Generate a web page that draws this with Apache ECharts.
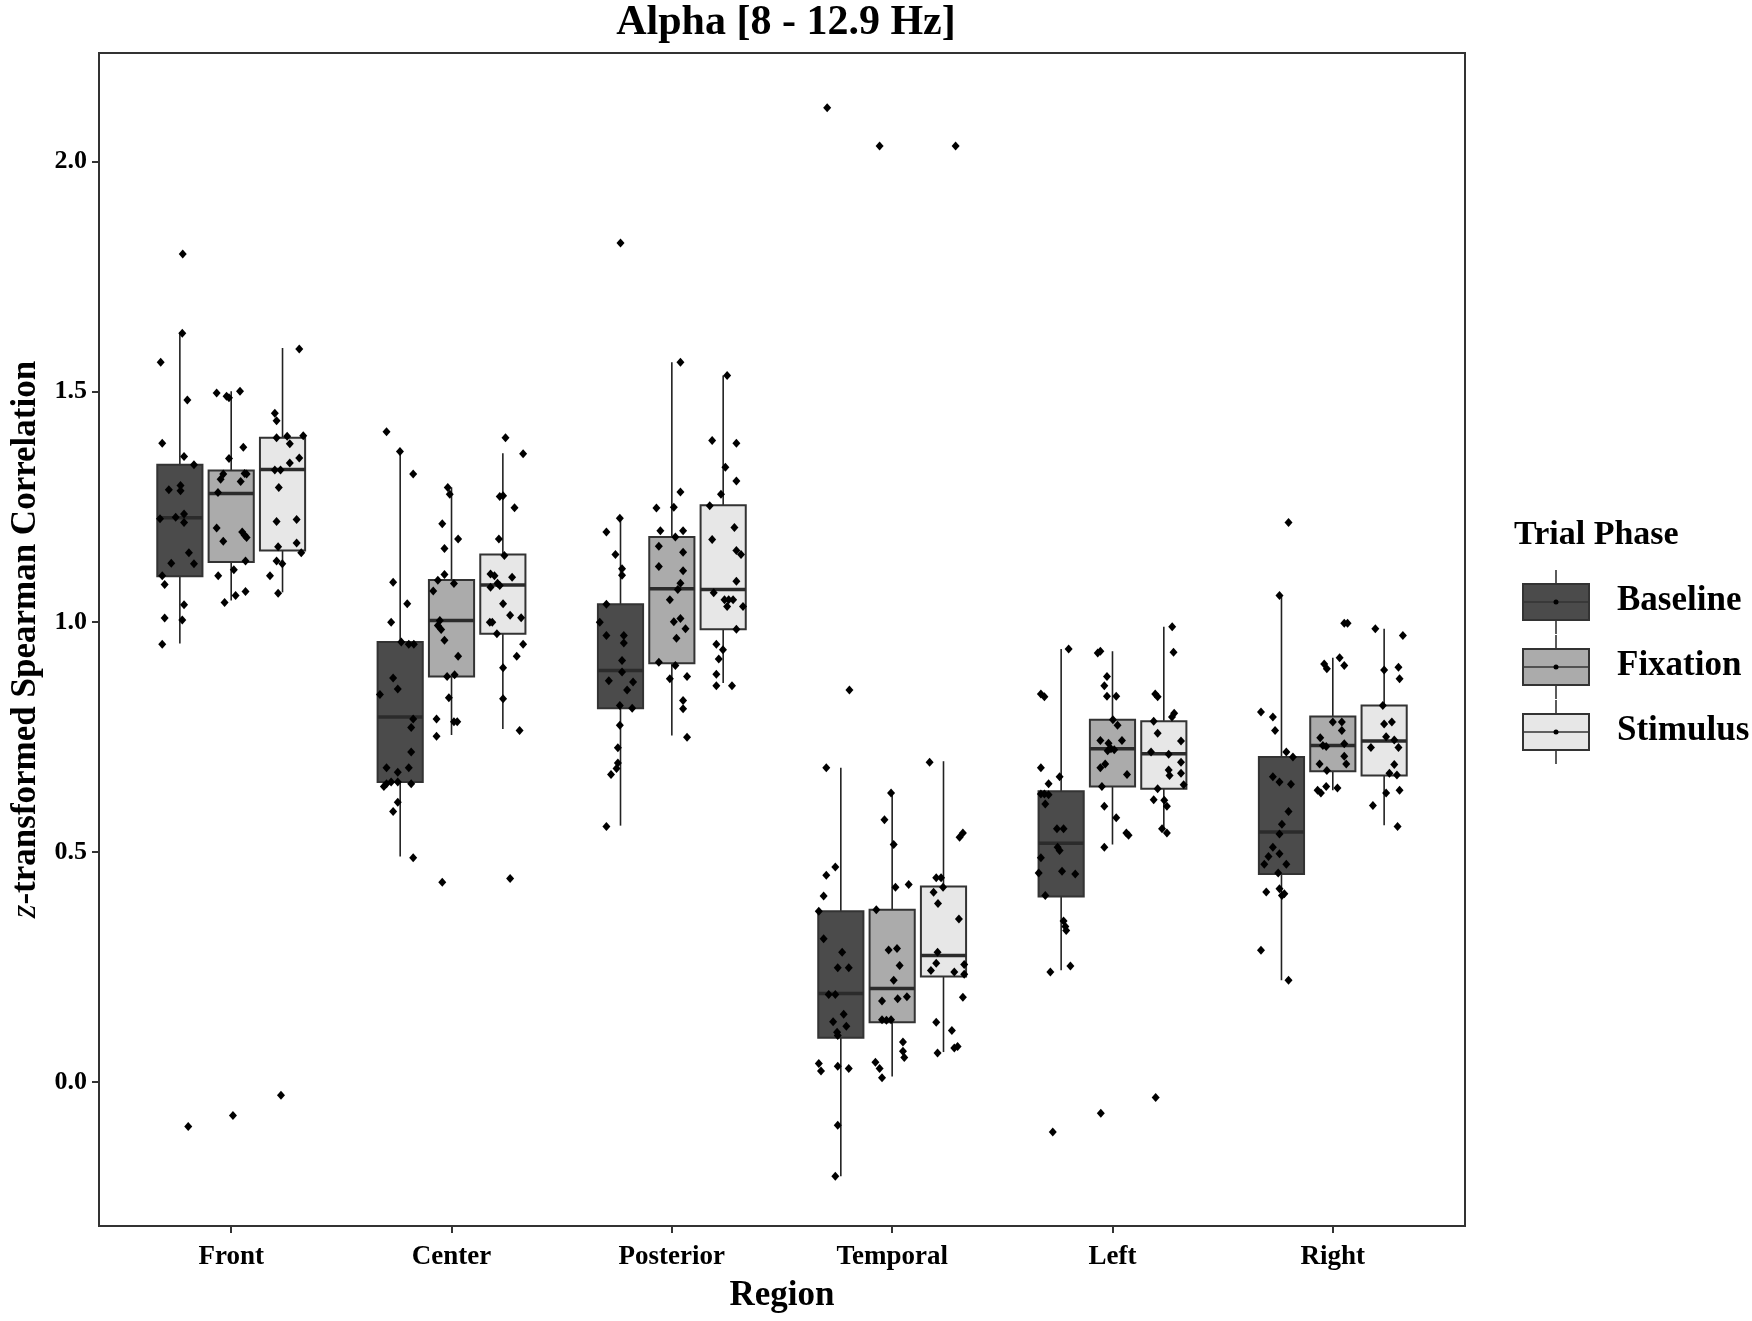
<!DOCTYPE html>
<html>
<head>
<meta charset="utf-8">
<script src="https://cdn.jsdelivr.net/npm/echarts@6/dist/echarts.min.js"></script>
<style>
    html, body { margin: 0; padding: 0; background: #fff; }
    #main { width: 1752px; height: 1321px; }
</style>
</head>
<body>
<div id="main"></div>
<script>
// categories
var regions = ['Front', 'Center', 'Posterior', 'Temporal', 'Left', 'Right'];
var phases = ['Baseline', 'Fixation', 'Stimulus'];
var yTicks = [0, 0.5, 1, 1.5, 2];

// box stats per region: [lower whisker, Q1, median, Q3, upper whisker]
var baselineStats = [
    [0.953, 1.099, 1.226, 1.341, 1.629],
    [0.490, 0.652, 0.793, 0.956, 1.370],
    [0.557, 0.812, 0.894, 1.038, 1.225],
    [-0.205, 0.096, 0.192, 0.371, 0.683],
    [0.243, 0.403, 0.519, 0.632, 0.941],
    [0.221, 0.452, 0.543, 0.706, 1.057]
];
var fixationStats = [
    [1.046, 1.130, 1.279, 1.329, 1.501],
    [0.754, 0.881, 1.003, 1.091, 1.292],
    [0.753, 0.910, 1.072, 1.184, 1.564],
    [0.012, 0.130, 0.203, 0.374, 0.628],
    [0.516, 0.642, 0.724, 0.787, 0.936],
    [0.634, 0.675, 0.731, 0.794, 0.922]
];
var stimulusStats = [
    [1.064, 1.155, 1.331, 1.400, 1.595],
    [0.767, 0.974, 1.080, 1.146, 1.366],
    [0.867, 0.984, 1.070, 1.253, 1.535],
    [0.065, 0.229, 0.275, 0.425, 0.697],
    [0.550, 0.637, 0.713, 0.784, 0.989],
    [0.558, 0.666, 0.741, 0.818, 0.985]
];

// jittered subject points per region: [x offset from region centre, value]
var baselinePts = [
    [[-0.222,1.627],[-0.320,1.564],[-0.199,1.482],[-0.313,1.388],[-0.214,1.359],[-0.169,1.341],[-0.283,1.287],[-0.230,1.296],[-0.230,1.285],[-0.323,1.224],[-0.252,1.227],[-0.214,1.234],[-0.214,1.216],[-0.192,1.150],[-0.272,1.127],[-0.169,1.126],[-0.313,1.100],[-0.302,1.081],[-0.214,1.037],[-0.302,1.008],[-0.222,1.004],[-0.313,0.951],[-0.220,1.799],[-0.195,-0.097]],
    [[-0.295,1.413],[-0.234,1.370],[-0.174,1.321],[-0.265,1.086],[-0.201,1.039],[-0.274,0.999],[-0.228,0.956],[-0.194,0.951],[-0.171,0.951],[-0.265,0.878],[-0.244,0.854],[-0.325,0.842],[-0.174,0.789],[-0.183,0.770],[-0.183,0.717],[-0.295,0.683],[-0.244,0.673],[-0.194,0.683],[-0.307,0.642],[-0.295,0.648],[-0.274,0.652],[-0.244,0.652],[-0.183,0.648],[-0.244,0.608],[-0.265,0.588],[-0.174,0.487]],
    [[-0.236,1.225],[-0.297,1.195],[-0.256,1.146],[-0.226,1.115],[-0.226,1.101],[-0.297,1.038],[-0.327,0.999],[-0.297,0.970],[-0.218,0.970],[-0.218,0.954],[-0.226,0.916],[-0.226,0.891],[-0.286,0.872],[-0.176,0.869],[-0.203,0.852],[-0.236,0.818],[-0.180,0.812],[-0.236,0.775],[-0.245,0.726],[-0.245,0.693],[-0.251,0.681],[-0.276,0.668],[-0.297,0.555],[-0.233,1.823]],
    [[-0.299,0.683],[-0.258,0.467],[-0.299,0.449],[-0.311,0.404],[-0.333,0.371],[-0.311,0.311],[-0.227,0.282],[-0.247,0.248],[-0.197,0.248],[-0.288,0.190],[-0.258,0.190],[-0.220,0.147],[-0.268,0.131],[-0.208,0.121],[-0.250,0.108],[-0.247,0.101],[-0.333,0.040],[-0.323,0.024],[-0.247,0.034],[-0.197,0.029],[-0.247,-0.094],[-0.258,-0.205],[-0.295,2.117],[-0.194,0.852]],
    [[-0.199,0.941],[-0.325,0.843],[-0.309,0.837],[-0.325,0.683],[-0.240,0.663],[-0.290,0.648],[-0.325,0.626],[-0.309,0.626],[-0.290,0.624],[-0.305,0.604],[-0.252,0.550],[-0.222,0.550],[-0.249,0.510],[-0.240,0.503],[-0.325,0.487],[-0.335,0.454],[-0.229,0.458],[-0.169,0.452],[-0.305,0.405],[-0.222,0.350],[-0.214,0.338],[-0.210,0.329],[-0.282,0.239],[-0.191,0.252],[-0.271,-0.109]],
    [[-0.201,1.216],[-0.242,1.057],[-0.326,0.804],[-0.272,0.793],[-0.262,0.764],[-0.211,0.717],[-0.181,0.706],[-0.272,0.663],[-0.242,0.652],[-0.190,0.647],[-0.201,0.588],[-0.231,0.560],[-0.242,0.539],[-0.272,0.510],[-0.292,0.490],[-0.242,0.496],[-0.311,0.473],[-0.211,0.473],[-0.248,0.454],[-0.302,0.413],[-0.242,0.420],[-0.231,0.405],[-0.220,0.409],[-0.326,0.286],[-0.201,0.221]]
];
var fixationPts = [
    [[-0.066,1.497],[-0.021,1.490],[-0.010,1.487],[0.040,1.501],[0.055,1.379],[-0.010,1.355],[-0.036,1.321],[-0.048,1.310],[0.043,1.305],[0.061,1.322],[0.070,1.321],[-0.060,1.281],[-0.066,1.204],[-0.036,1.175],[0.050,1.195],[0.061,1.188],[0.070,1.183],[0.065,1.132],[-0.059,1.100],[0.012,1.113],[-0.030,1.042],[0.020,1.057],[0.065,1.066],[0.008,-0.073]],
    [[-0.017,1.292],[-0.008,1.277],[-0.042,1.213],[0.030,1.180],[-0.032,1.159],[-0.032,1.103],[-0.062,1.090],[0.011,1.083],[-0.083,1.067],[-0.053,1.003],[-0.062,0.992],[-0.047,0.983],[-0.032,0.960],[0.030,0.925],[-0.020,0.881],[0.014,0.885],[-0.012,0.835],[-0.068,0.789],[0.011,0.783],[0.026,0.783],[-0.068,0.751],[-0.042,0.434]],
    [[0.039,1.564],[0.039,1.282],[-0.070,1.247],[0.009,1.249],[-0.052,1.198],[0.051,1.198],[0.016,1.184],[-0.059,1.164],[0.051,1.151],[-0.059,1.120],[0.051,1.111],[0.039,1.084],[0.027,1.070],[-0.009,1.048],[0.039,1.007],[0.009,1.000],[0.062,0.985],[0.021,0.964],[-0.059,0.912],[0.016,0.905],[-0.009,0.876],[0.069,0.881],[0.051,0.829],[0.051,0.811],[0.069,0.749]],
    [[-0.005,0.628],[-0.035,0.570],[0.007,0.516],[0.015,0.423],[0.075,0.429],[-0.072,0.374],[-0.016,0.287],[0.022,0.290],[0.034,0.253],[0.007,0.221],[-0.046,0.176],[0.025,0.181],[0.067,0.185],[-0.046,0.135],[-0.026,0.134],[-0.005,0.135],[0.049,0.087],[0.049,0.067],[0.055,0.053],[-0.076,0.043],[-0.057,0.029],[-0.046,0.009],[-0.057,2.034]],
    [[-0.067,0.932],[-0.055,0.936],[-0.025,0.881],[-0.037,0.861],[-0.025,0.838],[0.017,0.838],[0.002,0.787],[0.023,0.775],[-0.055,0.742],[-0.018,0.736],[0.043,0.742],[-0.022,0.720],[-0.007,0.724],[0.008,0.722],[-0.033,0.691],[-0.055,0.683],[0.066,0.668],[-0.048,0.642],[-0.037,0.599],[0.017,0.574],[0.063,0.541],[0.073,0.536],[-0.037,0.510],[-0.053,-0.068]],
    [[0.052,0.997],[0.067,0.997],[0.031,0.922],[-0.039,0.908],[-0.027,0.898],[0.052,0.905],[0.000,0.782],[0.041,0.782],[0.041,0.764],[-0.057,0.748],[-0.045,0.731],[-0.030,0.729],[0.052,0.735],[0.052,0.708],[-0.060,0.691],[0.061,0.691],[-0.027,0.677],[0.021,0.639],[-0.030,0.642],[-0.069,0.634],[-0.054,0.628]]
];
var stimulusPts = [
    [[0.309,1.593],[0.198,1.453],[0.206,1.437],[0.206,1.400],[0.254,1.403],[0.266,1.387],[0.327,1.404],[0.309,1.356],[0.266,1.345],[0.198,1.330],[0.224,1.330],[0.216,1.292],[0.206,1.218],[0.297,1.222],[0.297,1.171],[0.213,1.163],[0.318,1.150],[0.206,1.132],[0.232,1.126],[0.176,1.100],[0.213,1.062],[0.226,-0.029]],
    [[0.245,1.400],[0.325,1.365],[0.219,1.272],[0.234,1.274],[0.286,1.248],[0.215,1.180],[0.240,1.144],[0.177,1.104],[0.195,1.100],[0.275,1.097],[0.177,1.075],[0.209,1.084],[0.219,1.079],[0.234,1.039],[0.266,1.014],[0.316,1.009],[0.174,0.999],[0.185,0.999],[0.206,0.974],[0.325,0.951],[0.296,0.925],[0.234,0.900],[0.234,0.833],[0.309,0.764],[0.266,0.442]],
    [[0.251,1.535],[0.183,1.394],[0.293,1.388],[0.243,1.336],[0.293,1.306],[0.223,1.277],[0.172,1.252],[0.284,1.205],[0.183,1.179],[0.293,1.155],[0.314,1.146],[0.293,1.088],[0.190,1.063],[0.239,1.048],[0.258,1.048],[0.278,1.048],[0.251,1.033],[0.323,1.033],[0.293,0.984],[0.202,0.951],[0.232,0.939],[0.213,0.919],[0.202,0.886],[0.202,0.861],[0.273,0.861]],
    [[0.170,0.695],[0.306,0.532],[0.321,0.541],[0.200,0.444],[0.222,0.444],[0.231,0.423],[0.188,0.412],[0.208,0.388],[0.303,0.354],[0.206,0.282],[0.200,0.258],[0.176,0.242],[0.282,0.239],[0.327,0.255],[0.327,0.234],[0.321,0.184],[0.200,0.130],[0.271,0.112],[0.282,0.074],[0.297,0.077],[0.206,0.063],[0.288,2.034]],
    [[0.271,0.989],[0.277,0.934],[0.194,0.843],[0.205,0.837],[0.280,0.801],[0.270,0.793],[0.187,0.784],[0.205,0.758],[0.311,0.741],[0.175,0.717],[0.255,0.712],[0.311,0.695],[0.255,0.678],[0.259,0.666],[0.311,0.671],[0.323,0.646],[0.205,0.637],[0.187,0.613],[0.235,0.612],[0.247,0.599],[0.225,0.550],[0.247,0.541],[0.196,-0.034]],
    [[0.193,0.985],[0.318,0.970],[0.233,0.895],[0.298,0.901],[0.303,0.876],[0.227,0.818],[0.233,0.778],[0.268,0.782],[0.242,0.750],[0.173,0.727],[0.279,0.743],[0.298,0.727],[0.279,0.690],[0.257,0.671],[0.291,0.667],[0.242,0.628],[0.303,0.634],[0.182,0.601],[0.294,0.555]]
];

var colorList = ['#4b4b4b', '#ababab', '#e7e7e7'];
var dodge = [-0.233, 0, 0.233];   // box offset of each phase inside a region
var boxWidth = 0.205;
var serif = '"Liberation Serif", "DejaVu Serif", serif';

var allStats = [baselineStats, fixationStats, stimulusStats];
var allPts = [baselinePts, fixationPts, stimulusPts];

function renderBox(params, api) {
    var x = api.value(0);
    var lo = api.coord([x, api.value(1)]);
    var q1 = api.coord([x, api.value(2)]);
    var md = api.coord([x, api.value(3)]);
    var q3 = api.coord([x, api.value(4)]);
    var hi = api.coord([x, api.value(5)]);
    var w = api.size([boxWidth, 0])[0];
    return {
        type: 'group',
        children: [
            { type: 'line', shape: { x1: lo[0], y1: lo[1], x2: q1[0], y2: q1[1] }, style: { stroke: '#222', lineWidth: 1.6 } },
            { type: 'line', shape: { x1: q3[0], y1: q3[1], x2: hi[0], y2: hi[1] }, style: { stroke: '#222', lineWidth: 1.6 } },
            { type: 'rect', shape: { x: q3[0] - w / 2, y: q3[1], width: w, height: q1[1] - q3[1] }, style: { fill: api.visual('color'), stroke: '#333', lineWidth: 2 } },
            { type: 'line', shape: { x1: md[0] - w / 2, y1: md[1], x2: md[0] + w / 2, y2: md[1] }, style: { stroke: '#2b2b2b', lineWidth: 3.5 } }
        ]
    };
}

var series = [];
phases.forEach(function (ph, p) {
    var boxData = allStats[p].map(function (s, r) {
        return [r + 1 + dodge[p]].concat(s);
    });
    series.push({
        name: ph,
        type: 'custom',
        renderItem: renderBox,
        itemStyle: { color: colorList[p] },
        encode: { x: 0, y: [1, 2, 3, 4, 5] },
        data: boxData,
        z: 2
    });
});
phases.forEach(function (ph, p) {
    var pts = [];
    allPts[p].forEach(function (list, r) {
        list.forEach(function (d) {
            pts.push([r + 1 + d[0], d[1]]);
        });
    });
    series.push({
        name: ph + ' points',
        type: 'scatter',
        symbol: 'diamond',
        symbolSize: [8, 9],
        itemStyle: { color: '#000', opacity: 1 },
        data: pts,
        z: 5
    });
});

// legend drawn by hand: box glyph with whiskers and a centre dot
var legendItems = [];
legendItems.push({
    type: 'text', left: 1514, top: 518,
    style: { text: 'Trial Phase', font: 'bold 34px ' + serif, fill: '#000' }
});
phases.forEach(function (ph, p) {
    var cy = 602 + p * 65;
    legendItems.push({ type: 'line', shape: { x1: 1556, y1: cy - 32, x2: 1556, y2: cy + 32 }, style: { stroke: '#333', lineWidth: 1.6 } });
    legendItems.push({ type: 'rect', shape: { x: 1523, y: cy - 18, width: 66, height: 36 }, style: { fill: colorList[p], stroke: '#333', lineWidth: 2 } });
    legendItems.push({ type: 'line', shape: { x1: 1523, y1: cy, x2: 1589, y2: cy }, style: { stroke: '#333', lineWidth: 1.6 } });
    legendItems.push({ type: 'circle', shape: { cx: 1556, cy: cy, r: 2.5 }, style: { fill: '#000' } });
    legendItems.push({
        type: 'text', left: 1617, top: cy - 19,
        style: { text: ph, font: 'bold 35px ' + serif, fill: '#000' }
    });
});

var dom = document.getElementById('main');
var chart = echarts.init(dom);
var option = {
    backgroundColor: '#fff',
    animation: false,
    title: {
        text: 'Alpha [8 - 12.9 Hz]',
        left: 781,
        textAlign: 'center',
        top: -3,
        textStyle: { fontFamily: serif, fontWeight: 'bold', fontSize: 42, color: '#000' }
    },
    grid: {
        left: 98, right: 287, top: 53, bottom: 95,
        show: true, borderColor: '#333', borderWidth: 2, backgroundColor: '#fff'
    },
    xAxis: {
        type: 'value',
        min: 0.4,
        max: 6.6,
        name: 'Region',
        nameLocation: 'middle',
        nameGap: 52,
        nameTextStyle: { fontFamily: serif, fontWeight: 'bold', fontSize: 35, color: '#000' },
        axisLine: { show: true, onZero: false, lineStyle: { color: '#333', width: 2 } },
        axisTick: { show: true, length: 7, lineStyle: { color: '#333', width: 2 }, customValues: [1, 2, 3, 4, 5, 6] },
        axisLabel: {
            customValues: [1, 2, 3, 4, 5, 6],
            margin: 18,
            fontFamily: serif, fontWeight: 'bold', fontSize: 27, color: '#000',
            formatter: function (v) { return regions[Math.round(v) - 1]; }
        },
        splitLine: { show: false }
    },
    yAxis: {
        type: 'value',
        min: -0.313,
        max: 2.236,
        name: '{it|z}-transformed Spearman Correlation',
        nameLocation: 'middle',
        nameGap: 56,
        nameTextStyle: {
            fontFamily: serif, fontWeight: 'bold', fontSize: 35, color: '#000',
            rich: { it: { fontFamily: serif, fontStyle: 'italic', fontWeight: 'normal', fontSize: 35, color: '#000' } }
        },
        axisLine: { show: true, onZero: false, lineStyle: { color: '#333', width: 2 } },
        axisTick: { show: true, length: 7, lineStyle: { color: '#333', width: 2 }, customValues: yTicks },
        axisLabel: {
            customValues: yTicks,
            margin: 12,
            fontFamily: serif, fontWeight: 'bold', fontSize: 26, color: '#000',
            formatter: function (v) { return v.toFixed(1); }
        },
        splitLine: { show: false }
    },
    graphic: legendItems,
    series: series
};

chart.setOption(option);
window.addEventListener('resize', function () {
    chart.resize();
});
</script>
</body>
</html>
